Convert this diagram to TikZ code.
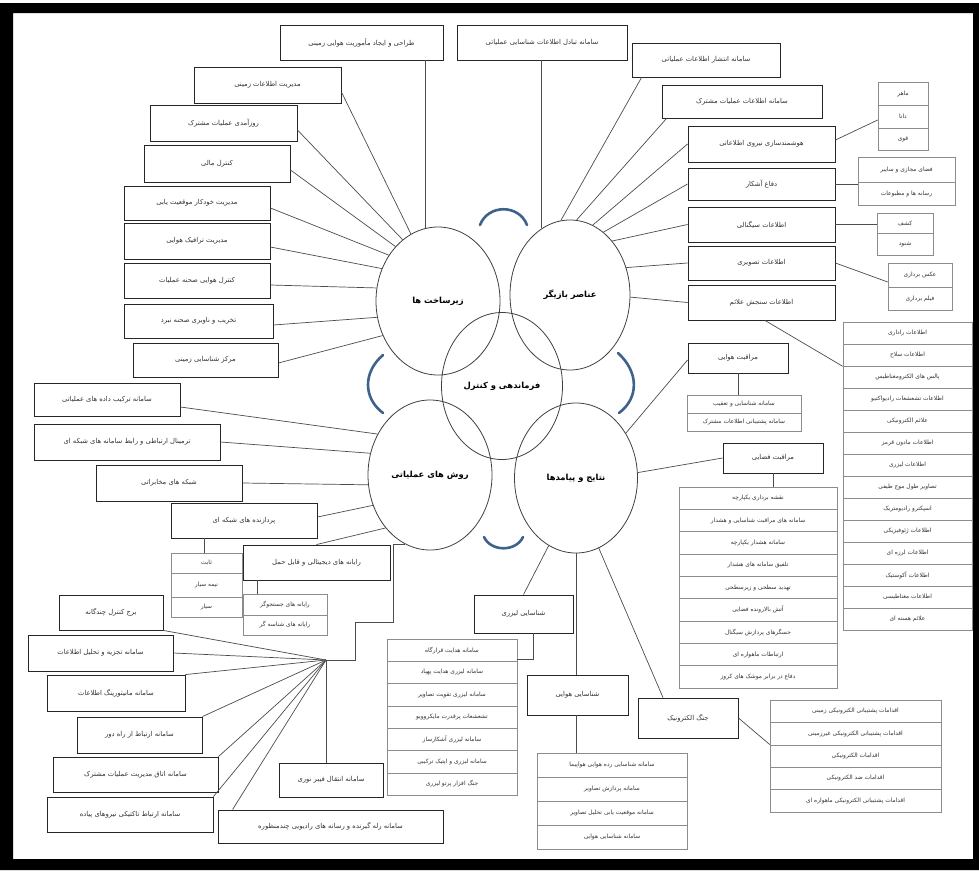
\documentclass[tikz,border=0pt]{standalone}
\usepackage{fontspec}
\newfontfamily\arabicfont[Script=Arabic]{DejaVu Sans}
\TeXXeTstate=1
\usetikzlibrary{shapes.geometric,calc}
\definecolor{arcblue}{RGB}{62,98,138}
\tikzset{
  bx/.style={draw=black!85, line width=0.9pt, fill=white, inner sep=0pt, font=\fontsize{6.8}{8}\selectfont\arabicfont, text=black!80},
  cl/.style={draw=black!45, line width=0.6pt, fill=white, inner sep=0pt, font=\fontsize{5.9}{7}\selectfont\arabicfont, text=black!80},
  ring/.style={ellipse, draw=black!75, line width=0.8pt, inner sep=0pt, font=\fontsize{8.4}{10}\selectfont\arabicfont\bfseries},
  ln/.style={draw=black!70, line width=0.7pt},
  bluearc/.style={draw=arcblue, line width=2.6pt, line cap=round},
}
\newcommand\mybox[7][bx]{%
  \pgfmathsetmacro\bxcx{((#3)+(#5))/2}%
  \pgfmathsetmacro\bxcy{((#4)+(#6))/2}%
  \pgfmathsetmacro\bxw{(#5)-(#3)}%
  \pgfmathsetmacro\bxh{(#6)-(#4)}%
  \node[#1, minimum width=\bxw pt, minimum height=\bxh pt] (#2) at (\bxcx,\bxcy) {#7};}
\begin{document}
\begin{tikzpicture}[x=1pt,y=-1pt]
\useasboundingbox (0,0) rectangle (979,870);
\fill[white] (0,0) rectangle (979,870);
\fill[black,even odd rule] (0,3) rectangle (979,870) (13,13) rectangle (973,859);

% circles
\node[ring, minimum width=124pt, minimum height=148pt] (zir) at (438,301) {\beginR زیرساخت ها\endR};
\node[ring, minimum width=120pt, minimum height=150pt] (ban) at (570,295) {\beginR عناصر بازیگر\endR};
\node[ring, minimum width=121pt, minimum height=147pt] (fck) at (502,386) {\beginR فرماندهی و کنترل\endR};
\node[ring, minimum width=124pt, minimum height=150pt] (rav) at (430,475) {\beginR روش های عملیاتی\endR};
\node[ring, minimum width=123pt, minimum height=150pt] (nat) at (576,478) {\beginR نتایج و پیامدها\endR};

% blue arcs
\draw[bluearc] (480,225) .. controls (488,204) and (519,204) .. (527,225);
\draw[bluearc] (383,355) .. controls (363,372) and (363,398) .. (383,413);
\draw[bluearc] (618,353) .. controls (639,372) and (639,398) .. (619,413);
\draw[bluearc] (484,537) .. controls (491,552) and (516,552) .. (523,537);

% top-left group
\mybox{t1}{280}{25}{443}{60}{\beginR طراحی و ایجاد مأموریت هوایی زمینی\endR}
\mybox{b2}{194}{67}{341}{103}{\beginR مدیریت اطلاعات زمینی\endR}
\mybox{b3}{150}{105}{297}{141}{\beginR روزآمدی عملیات مشترک\endR}
\mybox{b4}{144}{145}{290}{182}{\beginR کنترل مالی\endR}
\mybox{b5}{124}{186}{270}{220}{\beginR مدیریت خودکار موقعیت یابی\endR}
\mybox{b6}{124}{223}{270}{259}{\beginR مدیریت ترافیک هوایی\endR}
\mybox{b7}{124}{263}{270}{298}{\beginR کنترل هوایی صحنه عملیات\endR}
\mybox{b8}{124}{304}{273}{338}{\beginR تخریب و ناوبری صحنه نبرد\endR}
\mybox{b9}{133}{343}{278}{377}{\beginR مرکز شناسایی زمینی\endR}
\draw[ln] (zir.100 |- t1.south) -- (zir.100);
\draw[ln] ([yshift=-7pt]b2.east) -- (zir.112);
\draw[ln] ([yshift=-7pt]b3.east) -- (zir.120);
\draw[ln] ([yshift=-6.5pt]b4.east) -- (zir.128);
\draw[ln] ([yshift=-5pt]b5.east) -- (zir.137);
\draw[ln] ([yshift=-6pt]b6.east) -- (zir.150);
\draw[ln] ([yshift=-4.5pt]b7.east) -- (zir.168);
\draw[ln] ([yshift=-4pt]b8.east) -- (zir.195);
\draw[ln] ([yshift=-3pt]b9.east) -- (zir.212);

% top-right group
\mybox{t2}{457}{25}{627}{60}{\beginR سامانه تبادل اطلاعات شناسایی عملیاتی\endR}
\mybox{t3}{632}{43}{780}{77}{\beginR سامانه انتشار اطلاعات عملیاتی\endR}
\mybox{t4}{662}{85}{822}{118}{\beginR سامانه اطلاعات عملیات مشترک\endR}
\mybox{t5}{688}{126}{835}{162}{\beginR هوشمندسازی نیروی اطلاعاتی\endR}
\mybox{t6}{688}{168}{835}{200}{\beginR دفاع آشکار\endR}
\mybox{t7}{688}{207}{835}{242}{\beginR اطلاعات سیگنالی\endR}
\mybox{t8}{688}{246}{835}{280}{\beginR اطلاعات تصویری\endR}
\mybox{t9}{688}{285}{835}{320}{\beginR اطلاعات سنجش علائم\endR}
\draw[ln] (ban.113 |- t2.south) -- (ban.113);
\draw[ln] ([xshift=10pt]t3.south west) -- (ban.97);
\draw[ln] ([xshift=5pt]t4.south west) -- (ban.85);
\draw[ln] (t5.west) -- (ban.72);
\draw[ln] (t6.west) -- (ban.62);
\draw[ln] (t7.west) -- (ban.52);
\draw[ln] (t8.west) -- (ban.26);
\draw[ln] (t9.west) -- (ban.358);

% sub boxes of top-right
\mybox[cl]{s51}{878}{82}{928}{105}{\beginR ماهر\endR}
\mybox[cl]{s52}{878}{105}{928}{128}{\beginR دانا\endR}
\mybox[cl]{s53}{878}{128}{928}{150}{\beginR قوی\endR}
\draw[ln] ([yshift=4pt]t5.east) -- ([yshift=-3.5pt]s52.west);
\mybox[cl]{s61}{858}{157}{955}{182}{\beginR فضای مجازی و سایبر\endR}
\mybox[cl]{s62}{858}{182}{955}{205}{\beginR رسانه ها و مطبوعات\endR}
\draw[ln] (t6.east) -- (t6.east -| s62.west);
\mybox[cl]{s71}{877}{213}{933}{233}{\beginR کشف\endR}
\mybox[cl]{s72}{877}{233}{933}{255}{\beginR شنود\endR}
\draw[ln] (t7.east) -- (t7.east -| s71.west);
\mybox[cl]{s81}{888}{263}{952}{287}{\beginR عکس برداری\endR}
\mybox[cl]{s82}{888}{287}{952}{310}{\beginR فیلم برداری\endR}
\draw[ln] (t8.east) -- ([yshift=-7pt]s81.west);

% MASINT list
\foreach \t [count=\i] in {\beginR اطلاعات راداری\endR,\beginR اطلاعات سلاح\endR,\beginR پالس های الکترومغناطیس\endR,\beginR اطلاعات تشعشعات رادیواکتیو\endR,\beginR علائم الکترونیکی\endR,\beginR اطلاعات مادون قرمز\endR,\beginR اطلاعات لیزری\endR,\beginR تصاویر طول موج طیفی\endR,\beginR اسپکترو رادیومتریک\endR,\beginR اطلاعات ژئوفیزیکی\endR,\beginR اطلاعات لرزه ای\endR,\beginR اطلاعات آکوستیک\endR,\beginR اطلاعات مغناطیسی\endR,\beginR علائم هسته ای\endR}{
  \mybox[cl]{m\i}{843}{322+(\i-1)*22}{972}{322+\i*22}{\t}
}
\draw[ln] ([xshift=3.5pt]t9.south) -- (m2.south west);

% right middle
\mybox{ah}{688}{343}{788}{373}{\beginR مراقبت هوایی\endR}
\mybox[cl]{ah1}{687}{395}{801}{413}{\beginR سامانه شناسایی و تعقیب\endR}
\mybox[cl]{ah2}{687}{413}{801}{431}{\beginR سامانه پشتیبانی اطلاعات مشترک\endR}
\draw[ln] (ah.south) -- (ah.south |- ah1.north);
\draw[ln] (nat.42) -- ([yshift=-2pt]ah.west);

\mybox{af}{723}{443}{823}{473}{\beginR مراقبت فضایی\endR}
\foreach \t [count=\i] in {\beginR نقشه برداری یکپارچه\endR,\beginR سامانه های مراقبت شناسایی و هشدار\endR,\beginR سامانه هشدار یکپارچه\endR,\beginR تلفیق سامانه های هشدار\endR,\beginR تهدید سطحی و زیرسطحی\endR,\beginR آتش بالارونده فضایی\endR,\beginR حسگرهای پردازش سیگنال\endR,\beginR ارتباطات ماهواره ای\endR,\beginR دفاع در برابر موشک های کروز\endR}{
  \mybox[cl]{af\i}{679}{487+(\i-1)*22.33}{837}{487+\i*22.33}{\t}
}
\draw[ln] (af.south) -- (af.south |- af1.north);
\draw[ln] (nat.5) -- (af.west);

\mybox{ew}{638}{698}{738}{738}{\beginR جنگ الکترونیک\endR}
\foreach \t [count=\i] in {\beginR اقدامات پشتیبانی الکترونیکی زمینی\endR,\beginR اقدامات پشتیبانی الکترونیکی غیرزمینی\endR,\beginR اقدامات الکترونیکی\endR,\beginR اقدامات ضد الکترونیکی\endR,\beginR اقدامات پشتیبانی الکترونیکی ماهواره ای\endR}{
  \mybox[cl]{ew\i}{770}{700+(\i-1)*22.4}{941}{700+\i*22.4}{\t}
}
\draw[ln] (nat.288) -- ([xshift=-25pt]ew.north);
\draw[ln] (ew.east) -- (ew3.north west);

% bottom centre
\mybox{ls}{474}{595}{573}{633}{\beginR شناسایی لیزری\endR}
\foreach \t [count=\i] in {\beginR سامانه هدایت قرارگاه\endR,\beginR سامانه لیزری هدایت پهپاد\endR,\beginR سامانه لیزری تقویت تصاویر\endR,\beginR تشعشعات پرقدرت مایکروویو\endR,\beginR سامانه لیزری آشکارساز\endR,\beginR سامانه لیزری و اپتیک ترکیبی\endR,\beginR جنگ افزار پرتو لیزری\endR}{
  \mybox[cl]{ls\i}{387}{639+(\i-1)*22.3}{517}{639+\i*22.3}{\t}
}
\draw[ln] (nat.248) -- (ls.north);
\draw[ln] ([xshift=9.5pt]ls.south) |- ([yshift=-9pt]ls1.east);

\mybox{hv}{527}{675}{628}{715}{\beginR شناسایی هوایی\endR}
\foreach \t [count=\i] in {\beginR سامانه شناسایی رده هوایی هواپیما\endR,\beginR سامانه پردازش تصاویر\endR,\beginR سامانه موقعیت یابی تحلیل تصاویر\endR,\beginR سامانه شناسایی هوایی\endR}{
  \mybox[cl]{hv\i}{537}{753+(\i-1)*24}{687}{753+\i*24}{\t}
}
\draw[ln] (nat.270) -- (nat.270 |- hv.north);
\draw[ln] (hv.south -| nat.270) -- (nat.270 |- hv1.north);

% left group
\mybox{l1}{34}{383}{180}{416}{\beginR سامانه ترکیب داده های عملیاتی\endR}
\mybox{l2}{34}{424}{220}{460}{\beginR ترمینال ارتباطی و رابط سامانه های شبکه ای\endR}
\mybox{l3}{96}{465}{242}{501}{\beginR شبکه های مخابراتی\endR}
\mybox{l4}{171}{503}{317}{538}{\beginR پردازنده های شبکه ای\endR}
\mybox{l5}{243}{545}{390}{580}{\beginR رایانه های دیجیتالی و قابل حمل\endR}
\draw[ln] ([yshift=-7.5pt]l1.east) -- (rav.142);
\draw[ln] (l2.east) -- (rav.160);
\draw[ln] (l3.east) -- (rav.189);
\draw[ln] ([yshift=3.5pt]l4.east) -- (rav.208);
\draw[ln] (l5.north) -- (rav.230);
\mybox[cl]{p1}{171}{553}{242}{573}{\beginR ثابت\endR}
\mybox[cl]{p2}{171}{573}{242}{597}{\beginR نیمه سیار\endR}
\mybox[cl]{p3}{171}{597}{242}{617}{\beginR سیار\endR}
\draw[ln] ([xshift=-40pt]l4.south) -- ([xshift=-40pt]l4.south |- p1.north);
\mybox[cl]{r1}{243}{594}{327}{615}{\beginR رایانه های جستجوگر\endR}
\mybox[cl]{r2}{243}{615}{327}{635}{\beginR رایانه های شناسه گر\endR}
\draw[ln] ([xshift=-59.5pt]l5.south) -- ([xshift=-59.5pt]l5.south |- r1.north);

% hub group
\coordinate (hub) at (326,660);
\coordinate (k1) at (393,622);
\coordinate (k2) at (355,660);
\draw[ln] (rav.250) -| (k1) -| (k2) -- (hub);
\mybox{h1}{59}{595}{163}{630}{\beginR برج کنترل چندگانه\endR}
\mybox{h2}{28}{635}{173}{671}{\beginR سامانه تجزیه و تحلیل اطلاعات\endR}
\mybox{h3}{47}{675}{185}{711}{\beginR سامانه مانیتورینگ اطلاعات\endR}
\mybox{h4}{77}{717}{202}{753}{\beginR سامانه ارتباط از راه دور\endR}
\mybox{h5}{53}{757}{218}{792}{\beginR سامانه اتاق مدیریت عملیات مشترک\endR}
\mybox{h6}{47}{797}{213}{832}{\beginR سامانه ارتباط تاکتیکی نیروهای پیاده\endR}
\mybox{h7}{218}{810}{443}{843}{\beginR سامانه رله گیرنده و رسانه های رادیویی چندمنظوره\endR}
\mybox{h8}{279}{763}{383}{797}{\beginR سامانه انتقال فیبر نوری\endR}
\draw[ln] (h1.south east) -- (hub);
\draw[ln] (h2.east) -- (hub);
\draw[ln] (h3.north east) -- (hub);
\draw[ln] (h4.north east) -- (hub);
\draw[ln] (h5.north east) -- (hub);
\draw[ln] (h6.north east) -- (hub);
\draw[ln] ([xshift=15pt]h7.north west) -- (hub);
\draw[ln] (hub) -- (hub |- h8.north);
\end{tikzpicture}
\end{document}
